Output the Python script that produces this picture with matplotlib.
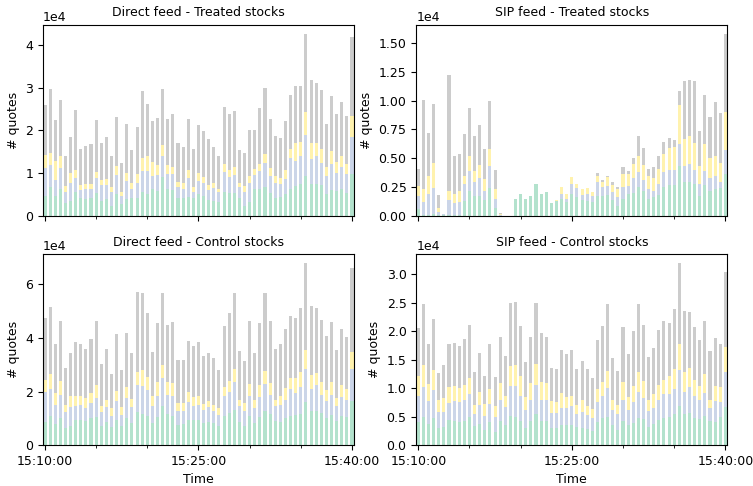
import numpy as np
import pandas as pd
import matplotlib
matplotlib.use("Agg")
import matplotlib.pyplot as plt
import matplotlib.dates as mdates

# 30-second buckets between 15:10:00 and 15:40:00
times = pd.date_range("2020-01-02 15:10:00", "2020-01-02 15:40:00", freq="30s")

# Cumulative quote counts per bucket (units of 1e4): layer 1, layers 1-2, layers 1-3, total
direct_treated_l1 = [0.47, 0.67, 0.47, 0.63, 0.31, 0.35, 0.55, 0.43, 0.39, 0.41, 0.53, 0.35, 0.39, 0.24, 0.51, 0.27,
                     0.39, 0.43, 0.43, 0.55, 0.51, 0.63, 0.59, 0.90, 0.63, 0.60, 0.43, 0.41, 0.45, 0.43, 0.51, 0.47,
                     0.38, 0.35, 0.33, 0.57, 0.53, 0.53, 0.41, 0.24, 0.33, 0.64, 0.63, 0.67, 0.53, 0.43, 0.45, 0.51,
                     0.63, 0.71, 0.75, 0.94, 0.75, 0.75, 0.72, 0.51, 0.60, 0.59, 0.63, 0.53, 0.98]
direct_treated_l2 = [1.11, 1.19, 0.85, 1.11, 0.57, 0.76, 0.89, 0.60, 0.64, 0.64, 0.88, 0.72, 0.72, 0.55, 0.96, 0.47,
                     0.82, 0.63, 0.78, 1.06, 1.06, 0.93, 0.96, 1.39, 0.98, 0.98, 0.67, 0.64, 0.89, 0.57, 0.82, 0.78,
                     0.60, 0.65, 0.55, 1.02, 0.90, 0.96, 0.67, 0.57, 0.76, 0.96, 1.06, 1.23, 0.94, 0.77, 0.75, 0.86,
                     1.36, 1.29, 1.39, 1.90, 1.33, 1.39, 1.23, 0.93, 1.22, 1.00, 1.15, 0.98, 1.84]
direct_treated_l3 = [1.43, 1.47, 1.29, 1.41, 0.69, 1.00, 1.07, 0.72, 0.75, 0.75, 1.02, 0.85, 0.86, 0.67, 1.17, 0.57,
                     1.00, 0.77, 0.98, 1.36, 1.39, 1.25, 1.18, 1.65, 1.18, 1.15, 0.79, 0.76, 1.07, 0.67, 1.01, 0.92,
                     0.73, 0.76, 0.63, 1.22, 1.07, 1.14, 0.77, 0.69, 0.93, 1.10, 1.22, 1.45, 1.12, 0.93, 0.89, 1.07,
                     1.57, 1.70, 1.73, 2.43, 1.71, 1.71, 1.57, 1.15, 1.53, 1.27, 1.41, 1.22, 2.33]
direct_treated_total = [2.59, 2.96, 2.24, 2.72, 1.39, 1.84, 2.47, 1.57, 1.64, 1.69, 2.24, 1.71, 1.84, 1.39, 2.31, 1.24,
                        2.16, 1.55, 2.09, 2.92, 2.63, 2.21, 2.30, 2.96, 2.26, 2.39, 1.71, 1.61, 2.27, 1.57, 2.13, 1.98,
                        1.79, 1.62, 1.39, 2.56, 2.39, 2.45, 1.55, 1.47, 2.02, 2.00, 2.53, 3.00, 2.27, 1.88, 1.83, 2.21,
                        2.82, 3.04, 3.04, 4.26, 3.18, 3.10, 2.94, 2.14, 2.80, 2.38, 2.66, 2.33, 4.18]

sip_treated_l1 = [0.06, 0.005, 0.01, 0.015, 0.005, 0.01, 0.01, 0.005, 0.005, 0.13, 0.22, 0.17, 0.17, 0.14, 0.24, 0.07,
                  0.0, 0.0, 0.0, 0.15, 0.19, 0.15, 0.17, 0.28, 0.19, 0.21, 0.11, 0.13, 0.15, 0.12, 0.19, 0.16,
                  0.14, 0.13, 0.12, 0.17, 0.17, 0.18, 0.14, 0.09, 0.15, 0.19, 0.20, 0.25, 0.22, 0.15, 0.16, 0.18,
                  0.25, 0.27, 0.27, 0.43, 0.29, 0.29, 0.28, 0.17, 0.27, 0.22, 0.23, 0.24, 0.36]
sip_treated_l2 = [0.17, 0.12, 0.19, 0.24, 0.035, 0.012, 0.14, 0.11, 0.12, 0.28, 0.39, 0.29, 0.33, 0.22, 0.43, 0.15,
                  0.005, 0.0, 0.0, 0.15, 0.19, 0.15, 0.17, 0.28, 0.19, 0.21, 0.11, 0.13, 0.19, 0.15, 0.28, 0.24,
                  0.18, 0.19, 0.17, 0.29, 0.25, 0.26, 0.21, 0.16, 0.25, 0.26, 0.33, 0.38, 0.31, 0.23, 0.22, 0.28,
                  0.38, 0.40, 0.40, 0.62, 0.43, 0.45, 0.40, 0.28, 0.39, 0.33, 0.35, 0.29, 0.57]
sip_treated_l3 = [0.26, 0.23, 0.35, 0.46, 0.07, 0.015, 0.22, 0.19, 0.22, 0.35, 0.52, 0.39, 0.44, 0.32, 0.58, 0.23,
                  0.015, 0.0, 0.0, 0.15, 0.19, 0.15, 0.17, 0.28, 0.19, 0.21, 0.11, 0.14, 0.25, 0.19, 0.34, 0.28,
                  0.23, 0.24, 0.21, 0.35, 0.29, 0.34, 0.27, 0.23, 0.36, 0.36, 0.45, 0.52, 0.44, 0.35, 0.33, 0.41,
                  0.54, 0.59, 0.60, 0.96, 0.67, 0.69, 0.63, 0.43, 0.62, 0.50, 0.52, 0.46, 0.90]
sip_treated_total = [0.41, 1.01, 0.72, 0.97, 0.18, 0.02, 1.22, 0.52, 0.54, 0.71, 0.94, 0.69, 0.79, 0.58, 1.00, 0.40,
                     0.025, 0.0, 0.0, 0.15, 0.19, 0.15, 0.17, 0.28, 0.19, 0.21, 0.11, 0.14, 0.25, 0.19, 0.34, 0.28,
                     0.23, 0.24, 0.21, 0.37, 0.31, 0.35, 0.29, 0.25, 0.42, 0.39, 0.50, 0.69, 0.59, 0.41, 0.42, 0.52,
                     0.64, 0.68, 0.66, 1.08, 1.17, 1.18, 1.17, 0.74, 1.05, 0.86, 0.99, 0.89, 1.58]

direct_control_l1 = [0.88, 1.08, 0.79, 1.00, 0.63, 0.73, 0.95, 0.94, 0.91, 1.00, 1.06, 0.73, 0.85, 0.66, 0.94, 0.70,
                     1.00, 0.83, 1.23, 1.16, 1.08, 0.81, 1.04, 1.48, 1.16, 1.08, 0.76, 0.79, 0.95, 0.94, 0.95, 0.81,
                     0.88, 0.81, 0.73, 1.08, 1.20, 1.31, 0.88, 0.73, 1.10, 0.83, 1.06, 1.29, 1.16, 0.89, 0.88, 1.00,
                     1.08, 1.14, 1.16, 1.60, 1.29, 1.29, 1.20, 1.01, 1.14, 0.91, 1.08, 1.06, 1.64]
direct_control_l2 = [1.98, 2.08, 1.51, 1.88, 1.23, 1.41, 1.45, 1.51, 1.39, 1.56, 1.75, 1.23, 1.41, 1.10, 1.63, 1.13,
                     1.75, 1.44, 2.23, 2.20, 2.04, 1.45, 1.85, 2.50, 1.89, 1.85, 1.29, 1.29, 1.60, 1.48, 1.51, 1.33,
                     1.41, 1.26, 1.13, 1.83, 1.98, 2.35, 1.45, 1.29, 1.85, 1.38, 1.79, 2.29, 1.88, 1.45, 1.50, 1.70,
                     2.08, 1.94, 2.16, 2.85, 2.10, 2.23, 1.89, 1.66, 1.89, 1.45, 1.79, 1.70, 2.83]
direct_control_l3 = [2.45, 2.64, 1.94, 2.38, 1.51, 1.85, 1.85, 1.85, 1.75, 1.94, 2.23, 1.48, 1.70, 1.38, 2.01, 1.41,
                     2.16, 1.73, 2.73, 2.79, 2.54, 1.83, 2.35, 3.01, 2.35, 2.31, 1.56, 1.56, 1.98, 1.79, 1.83, 1.54,
                     1.66, 1.51, 1.38, 2.16, 2.38, 2.83, 1.70, 1.56, 2.29, 1.70, 2.23, 2.76, 2.31, 1.70, 1.83, 2.13,
                     2.50, 2.51, 2.73, 3.56, 2.60, 2.69, 2.35, 2.04, 2.35, 1.75, 2.23, 2.10, 3.48]
direct_control_total = [4.73, 5.16, 3.76, 4.64, 2.88, 3.44, 3.85, 3.76, 3.58, 3.98, 4.63, 3.04, 3.60, 2.66, 4.13, 2.81,
                        4.20, 3.45, 5.73, 5.69, 4.95, 3.48, 4.54, 5.69, 4.50, 4.60, 3.16, 3.16, 3.89, 3.69, 3.85, 3.31,
                        3.44, 3.25, 2.81, 4.45, 4.95, 5.69, 3.51, 3.14, 4.64, 3.44, 4.56, 5.69, 4.64, 3.58, 3.76, 4.35,
                        4.83, 4.73, 5.10, 6.79, 5.20, 5.10, 4.66, 4.08, 4.58, 3.54, 4.35, 4.04, 6.60]

sip_control_l1 = [0.40, 0.50, 0.37, 0.47, 0.30, 0.32, 0.45, 0.42, 0.40, 0.43, 0.49, 0.33, 0.37, 0.26, 0.40, 0.23,
                  0.42, 0.36, 0.52, 0.50, 0.43, 0.30, 0.43, 0.55, 0.42, 0.42, 0.30, 0.30, 0.36, 0.36, 0.36, 0.32,
                  0.30, 0.29, 0.24, 0.40, 0.47, 0.49, 0.35, 0.27, 0.42, 0.35, 0.39, 0.48, 0.46, 0.32, 0.37, 0.45,
                  0.47, 0.49, 0.54, 0.69, 0.55, 0.56, 0.47, 0.46, 0.51, 0.42, 0.40, 0.49, 0.67]
sip_control_l2 = [0.87, 1.02, 0.77, 0.96, 0.58, 0.59, 0.74, 0.77, 0.76, 0.80, 0.89, 0.54, 0.70, 0.52, 0.73, 0.49,
                  0.80, 0.67, 1.03, 1.03, 0.86, 0.61, 0.79, 1.05, 0.80, 0.79, 0.56, 0.56, 0.66, 0.65, 0.69, 0.55,
                  0.59, 0.53, 0.47, 0.76, 0.86, 1.01, 0.61, 0.54, 0.80, 0.61, 0.76, 0.93, 0.83, 0.60, 0.65, 0.79,
                  0.89, 0.89, 0.98, 1.31, 0.94, 1.02, 0.87, 0.79, 0.92, 0.66, 0.77, 0.76, 1.28]
sip_control_l3 = [1.22, 1.40, 1.07, 1.31, 0.79, 0.83, 1.02, 1.03, 1.00, 1.05, 1.18, 0.71, 0.93, 0.73, 0.98, 0.68,
                  1.09, 0.87, 1.38, 1.40, 1.21, 0.84, 1.09, 1.42, 1.10, 1.09, 0.77, 0.76, 0.91, 0.84, 0.86, 0.71,
                  0.79, 0.69, 0.63, 0.98, 1.11, 1.30, 0.79, 0.71, 1.11, 0.84, 1.04, 1.28, 1.12, 0.80, 0.89, 1.05,
                  1.15, 1.21, 1.33, 1.77, 1.28, 1.35, 1.15, 1.04, 1.24, 0.80, 1.03, 1.02, 1.72]
sip_control_total = [2.06, 2.47, 1.77, 2.22, 1.27, 1.40, 1.77, 1.79, 1.74, 1.86, 2.10, 1.28, 1.62, 1.22, 1.77, 1.20,
                     1.89, 1.56, 2.50, 2.51, 2.09, 1.46, 1.90, 2.50, 1.96, 1.90, 1.36, 1.34, 1.66, 1.59, 1.67, 1.34,
                     1.48, 1.34, 1.17, 1.84, 2.09, 2.47, 1.52, 1.30, 2.07, 1.59, 2.00, 2.47, 2.11, 1.55, 1.71, 2.02,
                     2.18, 2.14, 2.38, 3.19, 2.36, 2.34, 2.07, 1.85, 2.18, 1.65, 1.88, 1.77, 3.03]

panel_titles = ["Direct feed - Treated stocks", "SIP feed - Treated stocks",
                "Direct feed - Control stocks", "SIP feed - Control stocks"]
panel_levels = [
    (direct_treated_l1, direct_treated_l2, direct_treated_l3, direct_treated_total),
    (sip_treated_l1, sip_treated_l2, sip_treated_l3, sip_treated_total),
    (direct_control_l1, direct_control_l2, direct_control_l3, direct_control_total),
    (sip_control_l1, sip_control_l2, sip_control_l3, sip_control_total),
]

# Pastel2 shades for the four stacked layers
layer_colors = ["#b3e2cd", "#cbd5e8", "#fff2ae", "#cccccc"]

plt.rcParams["font.size"] = 9
fig, axes = plt.subplots(2, 2, figsize=(7.53, 4.86), dpi=100, sharex=True)
fig.subplots_adjust(left=0.057, right=0.966, bottom=0.084, top=0.949, wspace=0.2, hspace=0.2)

day = pd.Timedelta(days=1)
bar_width = pd.Timedelta(seconds=18) / day
x = mdates.date2num(times.to_pydatetime())
pad = pd.Timedelta(seconds=12) / day

for ax, title, levels in zip(axes.flat, panel_titles, panel_levels):
    cum = np.vstack([np.zeros(len(times))] + [np.asarray(l) * 1e4 for l in levels])
    heights = np.diff(cum, axis=0)
    for k in range(4):
        ax.bar(x, heights[k], width=bar_width, bottom=cum[k], color=layer_colors[k], linewidth=0)
    ax.set_title(title, fontsize=9)
    ax.set_ylabel("# quotes")
    ax.ticklabel_format(axis="y", style="sci", scilimits=(0, 0))
    ax.set_xlim(x[0] - pad, x[-1] + pad)

for ax in axes[1]:
    ax.set_xlabel("Time")

ax0 = axes[0, 0]
ax0.xaxis.set_major_locator(mdates.MinuteLocator(byminute=[10, 25, 40]))
ax0.xaxis.set_minor_locator(mdates.MinuteLocator(byminute=[15, 20, 30, 35]))
ax0.xaxis.set_major_formatter(mdates.DateFormatter("%H:%M:%S"))

fig.savefig("out.png", dpi=100)
